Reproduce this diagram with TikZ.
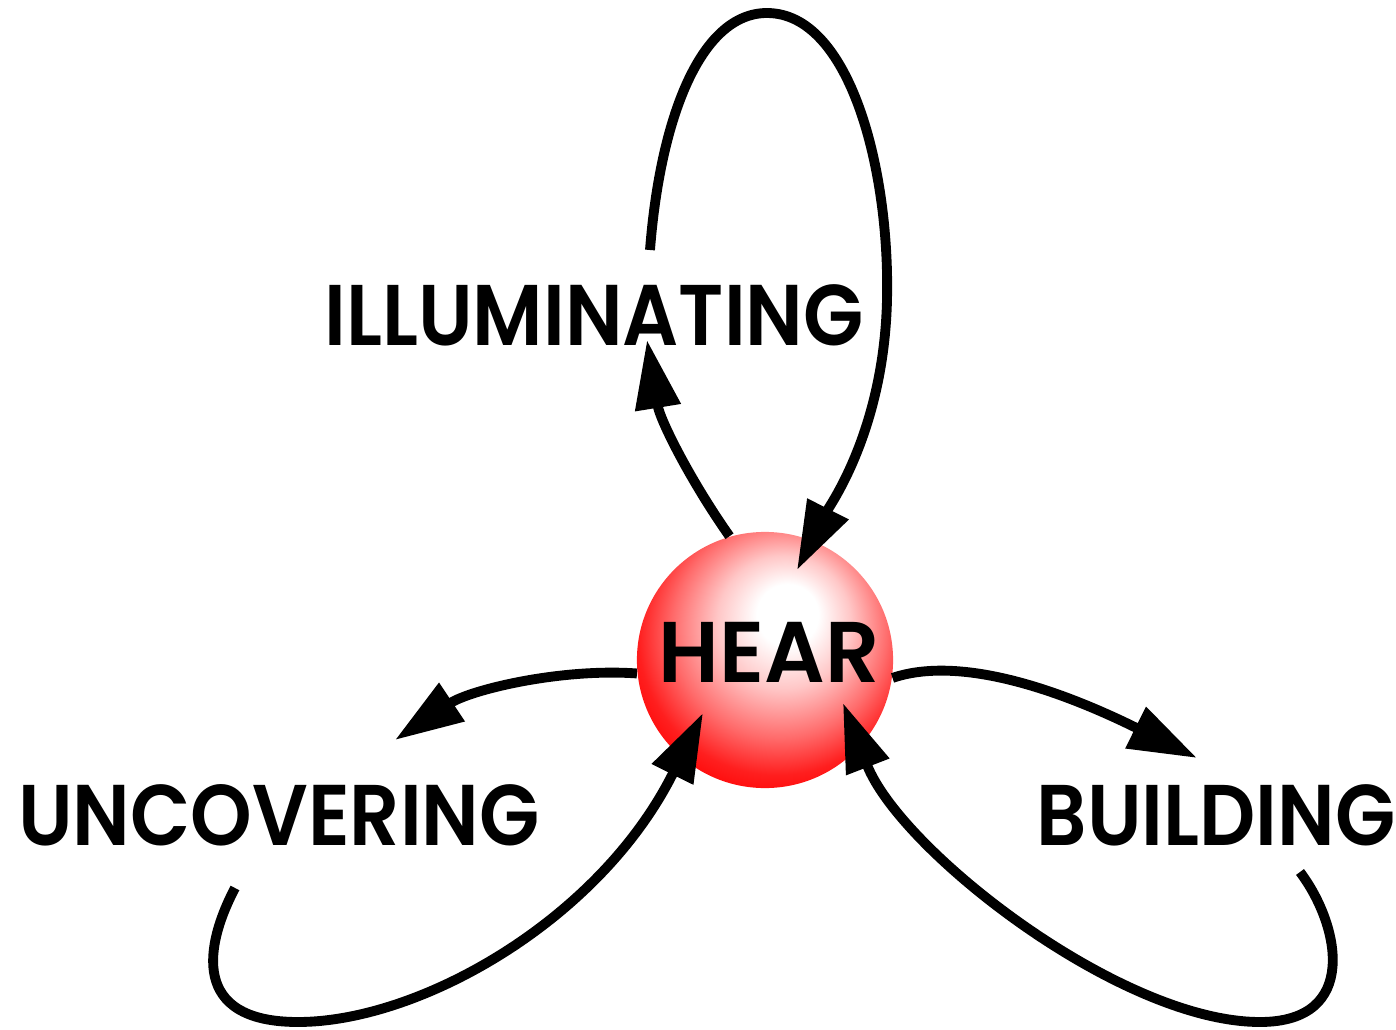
\documentclass[tikz,border=0pt]{standalone}
\usepackage{fontspec}
\newfontfamily\labelfont{Poppins SemiBold}
\usetikzlibrary{arrows.meta}

\pgfdeclareradialshading{hearball}{\pgfpoint{5bp}{10bp}}{color(0bp)=(white); color(6bp)=(white); color(13bp)=(red!22!white); color(21bp)=(red!58!white); color(27bp)=(red!88!white); color(32bp)=(red); color(50bp)=(red)}

\begin{document}
\begin{tikzpicture}[x=0.01cm, y=-0.01cm,
	word/.style={font=\labelfont\fontsize{24.5}{24.5}\selectfont, inner sep=0pt, anchor=base, xscale=0.91},
	flow/.style={line width=2.8pt, -{Triangle[length=19.5pt, width=12.5pt]}}]
	\useasboundingbox (0, 0) rectangle (1396, 1030);
	% ball and labels
	\node (hear) [circle, minimum size=2.56cm, inner sep=0pt, shading=hearball] at (765, 660) {};
	\node (hearlabel) [word, xscale=1.08] at (769, 682) {HEAR};
	\node (ill) [word] at (594, 345) {ILLUMINATING};
	\node (unc) [word] at (279, 845) {UNCOVERING};
	\node (bld) [word] at (1216, 845) {BUILDING};
	% free ends
	\coordinate (illtip) at (647, 340);
	\coordinate (illstart) at (650, 250);
	\coordinate (hearN) at (797, 570);
	\coordinate (unctip) at (395, 740);
	\coordinate (uncstart) at (235, 888);
	\coordinate (hearSW) at (703, 713);
	\coordinate (bldtip) at (1197, 758);
	\coordinate (bldstart) at (1300, 872);
	\coordinate (hearSE) at (843, 703);
	% arrows
	\draw [flow] (hear.106) .. controls (690, 480) and (660, 420) .. (illtip);
	\draw [flow] (illstart) .. controls (660, 120) and (700, 13) .. (767, 13)
		.. controls (850, 13) and (890, 170) .. (887, 300)
		.. controls (884, 430) and (830, 505) .. (hearN);
	\draw [flow] (hear.186) .. controls (560, 668) and (470, 690) .. (unctip);
	\draw [flow] (hear.-8) .. controls (960, 655) and (1060, 690) .. (bldtip);
	\draw [flow] (uncstart) .. controls (205, 945) and (190, 1022) .. (298, 1022)
		.. controls (420, 1022) and (600, 920) .. (hearSW);
	\draw [flow] (bldstart) .. controls (1340, 925) and (1360, 1022) .. (1260, 1022)
		.. controls (1120, 1022) and (900, 850) .. (hearSE);
\end{tikzpicture}
\end{document}
